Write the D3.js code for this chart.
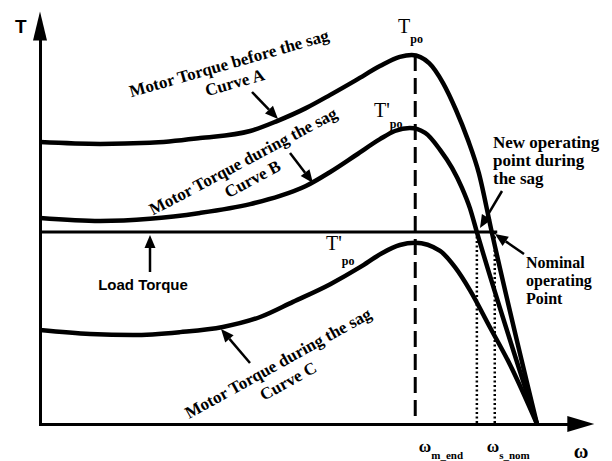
<!DOCTYPE html>
<html>
<head>
<meta charset="utf-8">
<script src="https://cdn.jsdelivr.net/npm/d3@7"></script>
<style>
  body { margin: 0; background: #fff; }
  text { fill: #000; }
</style>
</head>
<body>
<div id="chart"></div>
<script>
// speed in % of synchronous speed, torque in % of T_po
var curveA = [[0,76.4],[12.1,75.9],[22.1,76.2],[32.2,77.5],[42.3,79.4],[47.7,82.1],[53.5,85.6],[58.4,89.2],
              [63.6,93.2],[68.4,97.0],[72.4,99.5],[74.8,100],[78.3,97.8],[81.1,92.4],[83.7,85.1],[86.1,77.0],
              [88.3,68.0],[90.9,52.0],[100,0]];
var curveB = [[0,55.8],[12.1,55.0],[22.1,55.6],[32.2,57.2],[42.3,59.6],[48.3,61.8],[53.5,64.5],[58.4,68.3],
              [63.6,72.9],[68.4,77.2],[71.4,79.4],[74.4,80.2],[77.5,78.9],[80.5,74.3],[82.9,69.4],[84.9,64.0],
              [86.5,58.5],[87.9,52.0],[100,0]];
var curveC = [[0,25.5],[10.1,24.4],[18.7,24.1],[28.2,24.9],[36.8,26.3],[44.3,29.0],[50.9,33.1],[58.4,37.9],
              [64.4,42.5],[68.8,46.3],[72.4,48.5],[75.5,49.1],[80.5,46.9],[83.5,42.5],[86.5,36.3],[90.5,26.3],
              [94.6,16.0],[100,0]];
var loadTorque = 52;
var loadEnd = 92;
var peakSpeed = 75.5;
var peakTorque = 100;
var omegaMarks = [{w: 87.9, sub: "m_end"}, {w: 91.5, sub: "s_nom"}];

//SVG size
var svgWidth = 612;
var svgHeight = 461;

var svg = d3.select("#chart")
  .append("svg")
  .attr("width", svgWidth)
  .attr("height", svgHeight);

//Scales
var x = d3.scaleLinear().domain([0, 100]).range([40, 537]);
var y = d3.scaleLinear().domain([0, 100]).range([424, 55]);

var serif = "'Liberation Serif', 'Times New Roman', serif";
var sans = "'Liberation Sans', Arial, sans-serif";

//Axes (no ticks, just the arrows)
var xAxisEnd = 106.5, yAxisEnd = 104.5;
svg.append("g")
  .attr("transform", `translate(0, ${y(0)})`)
  .call(d3.axisBottom(x.copy().domain([0, xAxisEnd]).range([x(0), x(xAxisEnd)])).tickValues([]).tickSizeOuter(0))
  .select(".domain").attr("stroke-width", 3);
svg.append("g")
  .attr("transform", `translate(${x(0)}, 0)`)
  .call(d3.axisLeft(y.copy().domain([0, yAxisEnd]).range([y(0) + 1.5, y(yAxisEnd)])).tickValues([]).tickSizeOuter(0))
  .select(".domain").attr("stroke-width", 3);

var xe = x(xAxisEnd), ye = y(yAxisEnd);
svg.append("polygon")
  .attr("points", [[xe - 2, y(0) - 8], [xe + 25, y(0)], [xe - 2, y(0) + 8]].join(" "));
svg.append("polygon")
  .attr("points", [[x(0) - 7, ye + 2], [x(0), ye - 27], [x(0) + 7, ye + 2]].join(" "));

svg.append("text").attr("x", 15).attr("y", 33)
  .style("font-family", sans).style("font-weight", "bold").style("font-size", "19px").text("T");
svg.append("text").attr("x", 581).attr("y", 458).attr("text-anchor", "middle")
  .style("font-family", serif).style("font-weight", "bold").style("font-size", "20px").text("ω");

//Load torque line
svg.append("line")
  .attr("x1", x(0)).attr("x2", x(loadEnd))
  .attr("y1", y(loadTorque)).attr("y2", y(loadTorque))
  .attr("stroke", "#000").attr("stroke-width", 3);

//Dashed line through the peak
svg.append("line")
  .attr("x1", x(peakSpeed)).attr("x2", x(peakSpeed))
  .attr("y1", y(peakTorque)).attr("y2", y(0))
  .attr("stroke", "#000").attr("stroke-width", 3)
  .attr("stroke-dasharray", "16,7");

//Dotted speed markers
svg.selectAll(".dot-line").data(omegaMarks).enter().append("line")
  .attr("class", "dot-line")
  .attr("x1", d => x(d.w)).attr("x2", d => x(d.w))
  .attr("y1", y(loadTorque)).attr("y2", y(0))
  .attr("stroke", "#000").attr("stroke-width", 2.5)
  .attr("stroke-dasharray", "2,2.5");

//Torque curves
var line = d3.line()
  .x(d => x(d[0]))
  .y(d => y(d[1]))
  .curve(d3.curveMonotoneX);

svg.selectAll(".curve").data([curveA, curveB, curveC]).enter().append("path")
  .attr("class", "curve")
  .attr("d", line)
  .attr("fill", "none")
  .attr("stroke", "#000")
  .attr("stroke-width", 4.5)
  .attr("stroke-linejoin", "round");

//Arrows with filled heads
function arrow(x1, y1, x2, y2) {
  var a = Math.atan2(y2 - y1, x2 - x1), len = 13, half = 5.5;
  var bx = x2 - len * Math.cos(a), by = y2 - len * Math.sin(a);
  svg.append("line").attr("x1", x1).attr("y1", y1).attr("x2", bx).attr("y2", by)
    .attr("stroke", "#000").attr("stroke-width", 2.5);
  svg.append("polygon").attr("points", [
    [x2, y2],
    [bx + half * Math.sin(a), by - half * Math.cos(a)],
    [bx - half * Math.sin(a), by + half * Math.cos(a)]
  ].join(" "));
}
arrow(252, 92, 278, 119);
arrow(290, 153, 313, 183);
arrow(250, 363, 221, 329);
arrow(150, 272, 150, 235);
arrow(502, 191, 480, 228);
arrow(524, 254, 495, 234);

//Rotated curve labels
function curveLabel(cx, cy, ang, gap, l1, l2) {
  var g = svg.append("g").attr("transform", `translate(${cx}, ${cy}) rotate(${-ang})`)
    .style("font-family", serif).style("font-weight", "bold").style("font-size", "17px");
  g.append("text").attr("text-anchor", "middle").attr("dy", "0.35em").text(l1);
  g.append("text").attr("text-anchor", "middle").attr("y", gap).attr("dy", "0.35em").text(l2);
}
curveLabel(229, 63, 16, 20, "Motor Torque before the sag", "Curve A");
curveLabel(243, 161, 28, 20, "Motor Torque during the sag", "Curve B");
curveLabel(278, 363, 29, 20.5, "Motor Torque during the sag", "Curve C");

//Peak labels
function peakLabel(px, py, main, sub, dy) {
  var t = svg.append("text").attr("x", px).attr("y", py)
    .style("font-family", serif).style("font-size", "20px");
  t.append("tspan").text(main);
  t.append("tspan").attr("dy", dy).style("font-size", "12px").style("font-weight", "bold").text(sub);
}
peakLabel(398, 33, "T", "po", 10);
peakLabel(374, 117, "T'", "po", 11);
peakLabel(326, 250, "T'", "po", 15);

//Speed labels
svg.selectAll(".w-label").data(omegaMarks).enter().append("text")
  .attr("class", "w-label")
  .attr("x", d => x(d.w) - 58 + (d.w > 90 ? 50 : 0))
  .attr("y", 452)
  .style("font-family", serif).style("font-weight", "bold").style("font-size", "17px")
  .each(function(d) {
    d3.select(this).append("tspan").text("ω");
    d3.select(this).append("tspan").attr("dy", 7).style("font-size", "11px").text(d.sub);
  });

//Text notes
svg.append("text").attr("x", 143).attr("y", 290).attr("text-anchor", "middle")
  .style("font-family", sans).style("font-weight", "bold").style("font-size", "15px").text("Load Torque");

var note1 = ["New operating", "point during", "the sag"];
svg.selectAll(".note1").data(note1).enter().append("text")
  .attr("class", "note1")
  .attr("x", 493).attr("y", (d, i) => 148 + i * 18)
  .style("font-family", serif).style("font-weight", "bold").style("font-size", "17px").text(d => d);

var note2 = ["Nominal", "operating", "Point"];
svg.selectAll(".note2").data(note2).enter().append("text")
  .attr("class", "note2")
  .attr("x", 526).attr("y", (d, i) => 268 + i * 18)
  .style("font-family", serif).style("font-weight", "bold").style("font-size", "16px").text(d => d);
</script>
</body>
</html>
